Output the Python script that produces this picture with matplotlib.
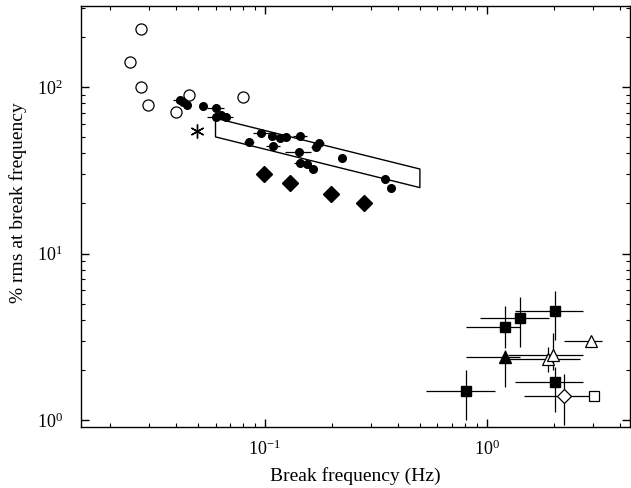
"""
rms at break frequency vs break frequency
"""
import numpy as np
import matplotlib.pyplot as plt
from matplotlib.ticker import LogLocator, NullFormatter

plt.rcParams['font.family'] = ['Liberation Serif', 'DejaVu Serif']
plt.rcParams['mathtext.fontset'] = 'stix'
plt.rcParams['axes.unicode_minus'] = False

# open circles
oc_f = [0.0277, 0.0247, 0.0277, 0.0299, 0.0397, 0.0456, 0.0796]
oc_r = [223, 142, 100, 78.3, 70.5, 90, 87]

# asterisk
ast_f = [0.0494]
ast_r = [54.5]

# filled diamonds
fd_f = [0.0996, 0.1296, 0.1995, 0.279]
fd_r = [30.1, 26.5, 22.7, 20.0]

# filled circles (with some x errors)
fc_f = [0.0415, 0.0430, 0.0446, 0.0526, 0.0602, 0.0602, 0.0634, 0.0670, 0.0850,
        0.0966, 0.108, 0.1094, 0.1173, 0.1247, 0.1442, 0.1427, 0.1442, 0.1556,
        0.1656, 0.1702, 0.175, 0.222, 0.348, 0.370]
fc_r = [83.5, 80.9, 78.0, 77.3, 74.5, 65.8, 67.9, 66.3, 46.9,
        52.7, 51.0, 44.4, 49.6, 50.1, 51.0, 40.5, 34.8, 34.5,
        32.2, 43.8, 45.9, 37.3, 28.0, 24.8]
fc_ferr = [0.003, 0.003, 0, 0, 0.005, 0.005, 0, 0.005, 0.0045,
           0.008, 0, 0.008, 0, 0, 0.01, 0.019, 0.009, 0,
           0, 0.008, 0.01, 0, 0, 0]

# box (power-law band)
box_f = [0.06, 0.5]
box_hi = [65.0, 32.2]
box_lo = [50.2, 24.9]

# filled squares: f, f_lo, f_hi, r, r_lo, r_hi
fs_f = [0.804, 1.209, 1.408, 2.025, 2.025]
fs_flo = [0.531, 0.804, 0.933, 1.34, 1.34]
fs_fhi = [1.09, 1.41, 1.909, 2.72, 2.72]
fs_r = [1.50, 3.60, 4.11, 4.52, 1.69]
fs_rlo = [1.00, 2.70, 2.74, 3.02, 1.12]
fs_rhi = [2.01, 4.84, 5.50, 5.97, 2.09]

# filled triangle
ft_f = [1.209]
ft_flo = [0.804]
ft_fhi = [1.41]
ft_r = [2.38]
ft_rlo = [1.58]
ft_rhi = [2.63]

# open triangles
ot_f = [1.894, 1.98, 2.94]
ot_flo = [1.25, 1.25, 2.23]
ot_fhi = [2.63, 2.72, 3.32]
ot_r = [2.32, 2.45, 2.99]
ot_rlo = [1.95, 2.0, 2.85]
ot_rhi = [2.75, 3.32, 3.15]

# open diamond
od_f = [2.22]
od_flo = [1.47]
od_fhi = [3.02]
od_r = [1.40]
od_rlo = [0.93]
od_rhi = [1.89]

# open square
os_f = [3.03]
os_r = [1.40]


def err(v, lo, hi):
    v = np.array(v)
    return [v - np.array(lo), np.array(hi) - v]


fig = plt.figure(figsize=(6.31, 4.88), dpi=100)
ax = fig.add_axes([0.128, 0.125, 0.8704, 0.8627])
ax.set_xscale('log')
ax.set_yscale('log')

ebkw = dict(ecolor='black', elinewidth=0.9, capsize=0, linestyle='none')

ax.plot(oc_f, oc_r, 'o', ms=8, mfc='white', mec='black', mew=0.9)
ax.plot(ast_f, ast_r, marker=(6, 2, 0), ms=10, color='black', mew=1, linestyle='none')
ax.plot(fd_f, fd_r, 'D', ms=8, color='black')
ax.errorbar(fc_f, fc_r, xerr=fc_ferr, fmt='o', ms=5.5, color='black', **ebkw)

ax.plot([box_f[0], box_f[1], box_f[1], box_f[0], box_f[0]],
        [box_hi[0], box_hi[1], box_lo[1], box_lo[0], box_hi[0]],
        color='black', lw=1)

ax.errorbar(fs_f, fs_r, xerr=err(fs_f, fs_flo, fs_fhi), yerr=err(fs_r, fs_rlo, fs_rhi),
            fmt='s', ms=7.5, color='black', **ebkw)
ax.errorbar(ft_f, ft_r, xerr=err(ft_f, ft_flo, ft_fhi), yerr=err(ft_r, ft_rlo, ft_rhi),
            fmt='^', ms=8, color='black', **ebkw)
ax.errorbar(ot_f, ot_r, xerr=err(ot_f, ot_flo, ot_fhi), yerr=err(ot_r, ot_rlo, ot_rhi),
            fmt='^', ms=8, mfc='white', mec='black', mew=0.9, **ebkw)
ax.errorbar(od_f, od_r, xerr=err(od_f, od_flo, od_fhi), yerr=err(od_r, od_rlo, od_rhi),
            fmt='D', ms=7.5, mfc='white', mec='black', mew=0.9, **ebkw)
ax.plot(os_f, os_r, 's', ms=7, mfc='white', mec='black', mew=0.9)

ax.set_xlim(0.01483, 4.42)
ax.set_ylim(0.908, 307)

ax.xaxis.set_major_locator(LogLocator(base=10, numticks=10))
ax.yaxis.set_major_locator(LogLocator(base=10, numticks=10))
ax.xaxis.set_minor_locator(LogLocator(base=10, subs=np.arange(2, 10), numticks=20))
ax.yaxis.set_minor_locator(LogLocator(base=10, subs=np.arange(2, 10), numticks=20))
ax.xaxis.set_minor_formatter(NullFormatter())
ax.yaxis.set_minor_formatter(NullFormatter())
ax.tick_params(which='both', direction='in', top=True, right=True, labelsize=13)
ax.tick_params(which='major', length=5.5, width=1)
ax.tick_params(which='minor', length=3.2, width=0.8)
ax.tick_params(axis='y', which='both', pad=13)
ax.tick_params(axis='x', which='both', pad=9)
for s in ax.spines.values():
    s.set_linewidth(1)

ax.set_xlabel("Break frequency (Hz)", fontsize=14)
ax.set_ylabel("% rms at break frequency", fontsize=14)
ax.xaxis.set_label_coords(0.5, -0.095)
ax.yaxis.set_label_coords(-0.097, 0.532)

fig.savefig("out.png", dpi=100)
